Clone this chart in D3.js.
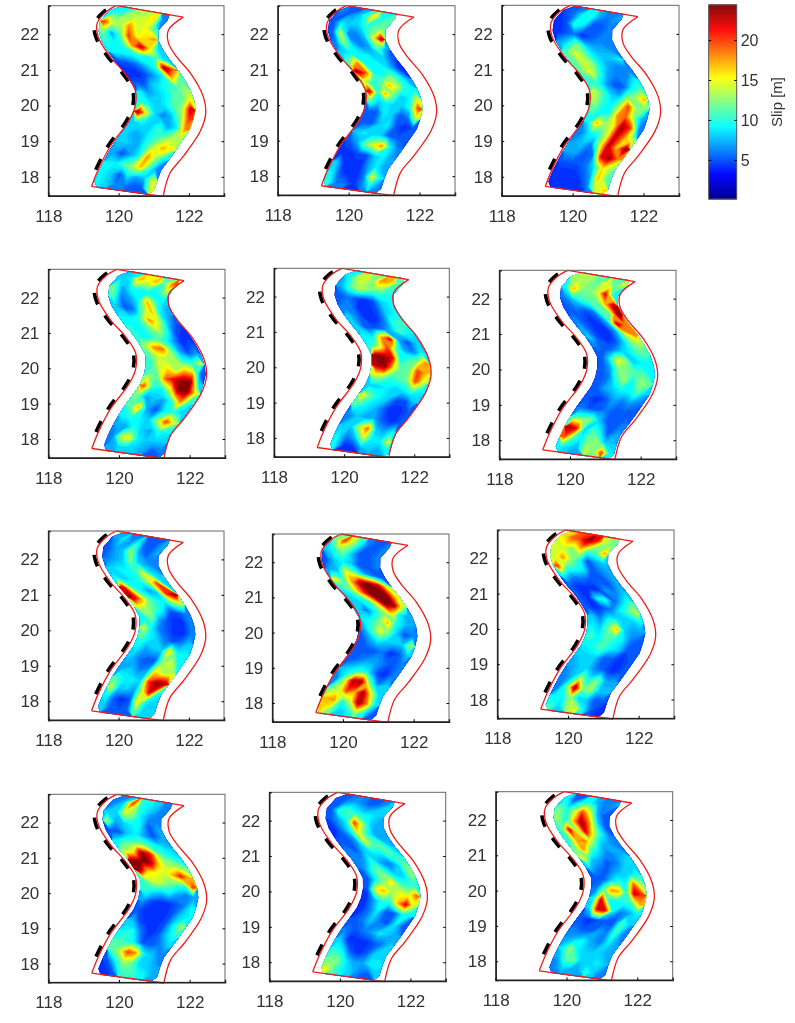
<!DOCTYPE html>
<html>
<head>
<meta charset="utf-8">
<script src="https://cdn.jsdelivr.net/npm/d3@7"></script>
<style>
  html, body { margin: 0; padding: 0; background: #fff; }
  svg { display: block; filter: blur(0.45px); }
  text { font-family: "Liberation Sans", Arial, sans-serif; fill: #333; }
</style>
</head>
<body>
<div id="chart"></div>
<script>
// fault outline, lon/lat
var westLon = [119.23, 119.42, 119.76, 120.28, 120.47, 120.47, 120.18, 119.76, 119.42, 119.39, 119.66, 119.94];
var westLat = [17.73, 18.2, 18.85, 19.55, 19.97, 20.44, 20.9, 21.37, 21.93, 22.31, 22.64, 22.8];
var eastLon = [121.27, 121.46, 121.84, 122.32, 122.48, 122.41, 122.08, 121.65, 121.42, 121.42, 121.84];
var eastLat = [17.45, 18.1, 18.57, 19.27, 19.78, 20.25, 20.86, 21.37, 21.75, 22.12, 22.48];

var lonTicks = [118, 120, 122];
var latTicks = [18, 19, 20, 21, 22];
var slipTicks = [5, 10, 15, 20];

// across-fault extent of the slipping mesh in each panel (0 = west edge, 1 = east edge)
var meshWest = [.02, .01, .02, .15, .165, .16, .07, 0, .05, .07, .1, .12];
var meshEast = [.85, .80, .84, .985, .99, .96, .85, .81, .85, .88, .9, .89];

// slip in metres, north at the top, west on the left
var slip01 = [
  [9,10,13,13,14,16,6],[20,14,13,18,14,15,11],[12,7,11,20,15,16,18],[10,9,11,18,23,16,8],
  [9,9,9,10,9,11,8],[5,5,6,8,10,24,19],[4,4,5,7,9,17,11],[5,5,8,9,10,11,13],
  [9,7,8,9,11,11,15],[10,9,8,9,11,13,23],[23,14,8,6,8,12,20],[8,9,8,10,7,9,18],
  [8,7,8,10,11,13,13],[8,8,7,10,14,17,15],[7,5,7,9,18,13,9],[9,9,11,13,17,11,6],
  [9,8,5,9,7,8,14],[9,8,6,6,5,5,14]];
var slip02 = [
  [6,5,7,10,16,9,11],[5,9,8,8,10,11,12],[5,14,6,6,8,14,23],[6,13,8,6,7,12,7],
  [8,9,9,9,8,8,5],[11,18,9,9,9,7,4],[24,19,10,9,12,10,7],[14,10,11,17,14,10,9],
  [22,10,17,12,8,9,14],[11,8,9,8,8,10,20],[5,5,9,8,5,6,14],[5,5,8,9,5,4,5],
  [8,9,8,8,5,5,5],[5,7,12,15,18,9,6],[4,4,5,5,8,9,7],[8,4,4,4,7,9,7],
  [9,5,4,4,6,15,9],[10,6,6,4,6,9,6]];
var slip03 = [
  [5,6,9,10,7,6,7],[4,5,10,9,5,5,6],[4,5,6,4,5,6,6],[7,9,12,8,7,7,6],
  [11,15,12,9,8,8,9],[11,14,13,9,7,6,6],[12,15,10,7,6,6,9],[10,10,7,5,5,9,11],
  [14,11,8,7,12,13,17],[13,10,9,13,20,12,12],[11,9,10,18,19,12,7],[9,17,13,15,24,20,6],
  [6,9,10,14,23,18,13],[7,8,6,14,23,16,24],[7,7,5,6,22,24,18],[5,5,5,6,9,16,13],
  [4,4,4,5,7,17,11],[4,4,4,4,6,14,16]];
var slip04 = [
  [8,9,17,15,17,11,19],[12,7,9,9,9,9,12],[11,6,7,9,17,11,8],[8,5,6,12,17,9,7],
  [9,9,11,18,14,8,5],[10,9,11,14,10,5,4],[10,9,11,10,7,4,5],[13,18,19,12,7,5,7],
  [11,14,13,13,10,10,14],[10,14,16,13,17,16,5],[13,11,19,22,24,24,8],[19,10,9,14,24,24,15],
  [12,7,8,7,10,18,10],[11,17,7,5,9,10,8],[9,10,9,8,13,20,14],[7,7,10,8,7,10,9],
  [6,14,15,9,8,8,8],[7,8,8,8,7,5,6]];
var slip05 = [
  [9,13,15,12,18,17,11],[7,10,13,13,11,11,10],[5,6,5,4,5,8,9],[6,6,4,4,5,8,9],
  [8,6,4,4,6,10,11],[8,5,5,6,8,11,9],[9,9,18,22,7,5,8],[10,14,20,11,7,6,9],
  [24,24,22,9,11,12,18],[23,24,16,11,12,20,17],[14,13,10,11,12,20,14],[8,8,9,8,9,11,9],
  [15,11,9,8,5,5,8],[11,9,8,6,4,4,5],[6,8,7,7,5,4,5],[8,8,14,19,8,7,9],
  [9,6,8,14,9,9,14],[9,4,4,7,8,7,9]];
var slip06 = [
  [13,13,13,11,15,11,14],[9,17,12,12,14,22,9],[6,8,10,11,11,17,23],[5,6,5,6,11,11,24],
  [6,5,4,5,8,23,18],[7,5,4,4,7,14,18],[8,5,4,5,8,12,13],[6,5,6,8,9,11,11],
  [5,9,15,13,8,9,9],[5,7,12,12,11,11,9],[5,6,10,13,9,13,12],[5,7,8,9,9,11,8],
  [5,4,5,7,6,7,6],[6,5,5,6,5,5,5],[11,12,12,8,5,5,6],[24,21,8,11,9,5,7],
  [19,11,9,12,13,8,8],[9,8,7,14,12,20,9]];
var slip07 = [
  [7,9,6,9,5,5,7],[5,7,8,13,7,5,7],[6,7,8,12,8,7,6],[8,9,9,10,14,9,8],
  [9,8,9,10,14,20,8],[22,12,9,7,8,20,24],[24,18,12,10,9,12,13],[14,13,11,9,5,5,6],
  [9,12,7,5,4,4,6],[14,9,6,5,4,4,6],[11,9,8,6,5,6,8],[9,7,8,8,16,9,9],
  [8,6,5,5,12,15,9],[7,8,6,7,16,13,14],[11,9,9,8,20,24,23],[14,8,8,7,14,22,10],
  [9,5,4,5,16,9,8],[8,5,5,5,12,8,8]];
var slip08 = [
  [12,20,14,10,6,5,6],[8,10,12,8,5,5,6],[5,8,9,8,5,5,6],[7,8,15,12,8,6,5],
  [15,11,18,24,24,22,14],[9,12,18,24,24,24,16],[8,9,10,16,24,24,14],[8,6,9,12,16,9,7],
  [9,10,12,17,10,8,7],[7,11,15,12,8,5,6],[5,7,9,8,8,8,13],[5,5,5,6,4,5,8],
  [5,6,7,7,6,5,6],[8,9,10,9,5,4,6],[6,13,23,24,12,6,8],[12,14,20,17,24,15,8],
  [17,18,10,14,24,18,9],[16,12,8,9,13,9,5]];
var slip09 = [
  [16,19,20,24,21,14,12],[14,14,12,16,11,11,17],[14,18,13,10,5,7,8],[20,11,10,9,5,6,7],
  [9,6,6,5,5,5,7],[5,4,4,4,7,6,8],[5,4,9,10,5,8,11],[5,4,5,6,9,11,14],
  [8,6,9,9,8,8,9],[9,8,12,17,8,7,7],[11,9,11,10,9,6,5],[9,10,11,9,8,5,5],
  [8,8,8,5,5,4,5],[7,8,8,6,5,4,5],[6,8,13,9,12,7,7],[6,12,24,12,13,8,8],
  [9,9,13,8,8,5,5],[11,8,13,15,9,5,4]];
var slip10 = [
  [6,8,20,10,9,8,6],[8,8,14,13,9,7,6],[13,7,8,9,9,5,7],[5,5,8,9,7,5,7],
  [9,11,11,12,10,9,8],[13,15,24,21,12,10,9],[24,24,24,17,13,13,12],[24,16,15,14,17,21,17],
  [11,14,14,12,11,10,20],[10,9,8,9,7,6,7],[7,5,4,4,5,6,9],[5,4,4,4,5,8,9],
  [8,5,4,4,5,9,13],[9,10,6,4,5,8,10],[11,10,9,5,5,6,8],[11,14,20,18,9,8,6],
  [5,9,13,12,8,8,7],[4,5,10,11,10,9,7]];
var slip11 = [
  [5,6,7,6,5,6,8],[5,10,11,10,9,9,8],[5,7,9,20,13,8,7],[4,6,9,15,10,7,7],
  [5,5,7,14,11,11,8],[6,5,8,9,9,11,10],[6,7,10,7,6,8,12],[6,9,12,10,8,8,12],
  [5,9,12,16,11,10,10],[5,15,17,13,15,14,19],[4,7,10,10,17,22,14],[4,6,9,5,5,9,9],
  [5,6,8,6,5,9,5],[6,5,6,7,9,8,7],[8,4,4,4,5,6,8],[10,9,5,4,5,8,8],
  [12,12,9,7,7,9,9],[15,11,9,8,6,5,8]];
var slip12 = [
  [9,5,9,9,7,6,7],[12,10,13,20,15,7,5],[13,9,17,24,18,9,5],[11,22,12,22,14,9,6],
  [10,17,19,13,8,7,6],[12,18,10,8,6,7,8],[15,8,7,5,6,8,8],[8,6,5,7,8,8,10],
  [5,5,8,10,9,19,13],[6,11,18,17,10,23,20],[9,22,9,9,10,11,17],[8,22,22,9,6,7,9],
  [5,4,5,5,5,11,8],[6,5,5,7,6,11,6],[7,8,9,7,6,9,7],[9,13,9,8,8,8,7],
  [7,11,12,8,8,9,8],[6,8,7,7,10,8,6]];
var panelSlip = [slip01, slip02, slip03, slip04, slip05, slip06, slip07, slip08, slip09, slip10, slip11, slip12];

// the panels were pasted by hand, their boxes do not line up exactly
var boxLeft   = [48.3, 277.7, 501.7, 48.3, 274, 499.3, 48.3, 272.3, 497.3, 48.3, 269.3, 495.7];
var boxRight  = [224, 455, 679, 225, 449.3, 676, 224, 449, 674, 225, 445.7, 672.7];
var boxTop    = [5.7, 5.7, 5.3, 269.3, 268.3, 270.3, 531, 534, 530, 794.3, 792.3, 791.7];
var boxBottom = [195.7, 195, 195.7, 457.7, 456.7, 459, 720, 721.7, 718.3, 982.3, 981, 980];

var svg = d3.select("#chart").append("svg")
  .attr("width", 795)
  .attr("height", 1023);

// jet colormap
var slipColor = d3.scaleLinear()
  .domain([0.1, 3.1, 9.2, 15.3, 21.3, 24.4])
  .range(["#00008f", "#0000ff", "#00ffff", "#ffff00", "#ff0000", "#800000"]);

var thresholds = d3.range(0, 25, 0.5);
var westByLat = d3.scaleLinear().domain(westLat).range(westLon);
var eastByLat = d3.scaleLinear().domain(eastLat).range(eastLon);

panelSlip.forEach(function(rows, p) {
  var x = d3.scaleLinear().domain([118, 123]).range([boxLeft[p], boxRight[p]]);
  var y = d3.scaleLinear().domain([17.47, 22.8]).range([boxBottom[p], boxTop[p]]);
  var g = svg.append("g");

  var nx = rows[0].length, ny = rows.length;
  var contours = d3.contours().size([nx, ny]).thresholds(thresholds).smooth(true);

  // grid position -> position on the curved fault
  var toFault = d3.geoTransform({
    point: function(gx, gy) {
      var v = 1 - gy / ny;
      var u = meshWest[p] + (meshEast[p] - meshWest[p]) * gx / nx;
      var wLat = 17.73 + v * (22.8 - 17.73);
      var eLat = 17.45 + v * (22.48 - 17.45);
      var lon = westByLat(wLat) * (1 - u) + eastByLat(eLat) * u;
      var lat = wLat * (1 - u) + eLat * u;
      this.stream.point(x(lon), y(lat));
    }
  });

  g.selectAll("path.slip")
    .data(contours(rows.flat()))
    .enter().append("path")
      .attr("class", "slip")
      .attr("d", d3.geoPath(toFault))
      .attr("fill", function(d) { return slipColor(d.value + 0.25); })
      .attr("stroke", function(d) { return slipColor(d.value + 0.25); })
      .attr("stroke-width", 0.2);

  var curve = d3.line()
    .x(function(d) { return x(d[0]); })
    .y(function(d) { return y(d[1]); })
    .curve(d3.curveCatmullRom);

  // trench, just west of the outline
  var trench = d3.zip(westLon, westLat)
    .filter(function(d) { return d[1] > 18; })
    .map(function(d) { return [d[0] - 0.07, d[1]]; });
  g.append("path")
    .attr("d", curve(trench))
    .attr("fill", "none")
    .attr("stroke", "#000")
    .attr("stroke-width", 3.6)
    .attr("stroke-dasharray", "12,13");

  var west = d3.zip(westLon, westLat), east = d3.zip(eastLon, eastLat);
  [curve(west), curve(east),
   curve([west[west.length - 1], east[east.length - 1]]),
   curve([west[0], east[0]])].forEach(function(d) {
    g.append("path")
      .attr("d", d)
      .attr("fill", "none")
      .attr("stroke", "#f01c1c")
      .attr("stroke-width", 1.3);
  });

  // box: left and bottom are heavier
  g.append("rect")
    .attr("x", boxLeft[p]).attr("y", boxTop[p])
    .attr("width", boxRight[p] - boxLeft[p]).attr("height", boxBottom[p] - boxTop[p])
    .attr("fill", "none").attr("stroke", "#666").attr("stroke-width", 1);

  var xAxis = g.append("g")
    .attr("transform", "translate(0," + boxBottom[p] + ")")
    .call(d3.axisBottom(x).tickValues(lonTicks).tickFormat(d3.format("d")).tickSize(-2.5).tickPadding(14));
  var yAxis = g.append("g")
    .attr("transform", "translate(" + boxLeft[p] + ",0)")
    .call(d3.axisLeft(y).tickValues(latTicks).tickFormat(d3.format("d")).tickSize(-2.5).tickPadding(9));
  g.append("g")
    .attr("transform", "translate(" + boxRight[p] + ",0)")
    .call(d3.axisRight(y).tickValues(latTicks).tickFormat("").tickSize(-2.5).tickSizeOuter(0))
    .select(".domain").remove();

  [xAxis, yAxis].forEach(function(a) {
    a.attr("font-size", null).attr("font-family", null);
    a.select(".domain").attr("stroke", "#222").attr("stroke-width", 1.5);
    a.selectAll("text").attr("font-size", 17).attr("fill", "#333");
  });
});

// colorbar
var barLeft = 708.7, barRight = 736.7, barTop = 5, barBottom = 199;
var barY = d3.scaleLinear().domain([0.1, 24.4]).range([barBottom, barTop]);
var barSteps = d3.range(0.1, 24.4, 0.125);
var bar = svg.append("g");
bar.selectAll("rect")
  .data(barSteps)
  .enter().append("rect")
    .attr("x", barLeft)
    .attr("width", barRight - barLeft)
    .attr("y", function(d) { return barY(d + 0.125); })
    .attr("height", function(d) { return barY(d) - barY(d + 0.125) + 0.5; })
    .attr("fill", function(d) { return slipColor(d); });
bar.append("rect")
  .attr("x", barLeft).attr("y", barTop)
  .attr("width", barRight - barLeft).attr("height", barBottom - barTop)
  .attr("fill", "none").attr("stroke", "#555").attr("stroke-width", 1);

var barAxis = bar.append("g")
  .attr("transform", "translate(" + barRight + ",0)")
  .call(d3.axisRight(barY).tickValues(slipTicks).tickSize(-2.5).tickPadding(4));
barAxis.attr("font-size", null).attr("font-family", null);
barAxis.select(".domain").remove();
barAxis.selectAll("text").attr("font-size", 16).attr("fill", "#333");
bar.append("g")
  .attr("transform", "translate(" + barLeft + ",0)")
  .call(d3.axisLeft(barY).tickValues(slipTicks).tickFormat("").tickSize(-2.5))
  .select(".domain").remove();

bar.append("text")
  .attr("transform", "translate(782,102) rotate(-90)")
  .attr("text-anchor", "middle")
  .attr("font-size", 15)
  .attr("fill", "#444")
  .text("Slip [m]");
</script>
</body>
</html>
